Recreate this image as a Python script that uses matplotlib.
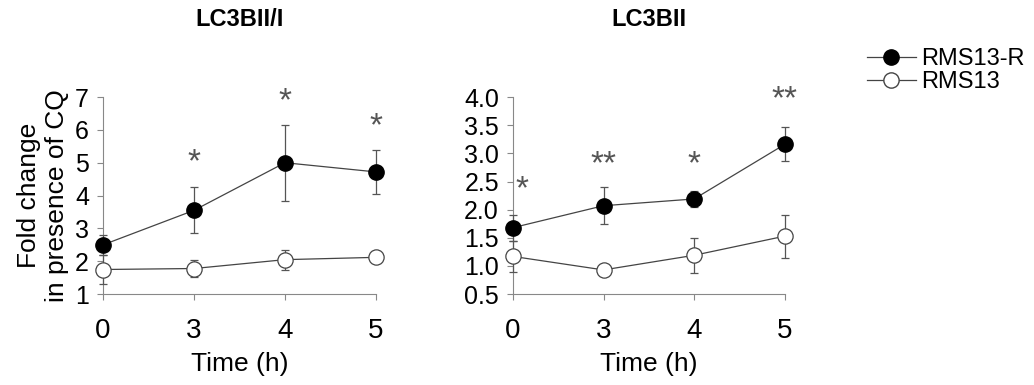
import numpy as np
import matplotlib
matplotlib.use('Agg')
import matplotlib.pyplot as plt
from matplotlib.lines import Line2D

plt.rcParams['font.family'] = ['Liberation Sans', 'DejaVu Sans']

time_labels = ['0', '3', '4', '5']

# LC3BII/I
r_ratio = [2.5, 3.55, 5.0, 4.72]
r_ratio_err = [0.3, 0.7, 1.15, 0.67]
s_ratio = [1.75, 1.78, 2.05, 2.12]
s_ratio_err = [0.45, 0.25, 0.3, 0.08]
stars_ratio = [(1, 5.0, '*'), (2, 6.85, '*'), (3, 6.1, '*')]

# LC3BII
r_ii = [1.68, 2.07, 2.19, 3.16]
r_ii_err = [0.23, 0.33, 0.15, 0.3]
s_ii = [1.17, 0.93, 1.19, 1.53]
s_ii_err = [0.28, 0.0, 0.31, 0.38]
stars_ii = [(0.1, 2.35, '*'), (1, 2.8, '**'), (2, 2.8, '*'), (3, 3.95, '**')]

fig = plt.figure(figsize=(10.34, 3.85), dpi=100)
ax1 = fig.add_axes([0.0996, 0.236, 0.264, 0.512])
ax2 = fig.add_axes([0.496, 0.236, 0.263, 0.512])

grey = '#888888'
x = np.arange(len(time_labels))


def draw(ax, r, re, s, se, stars):
    ax.errorbar(x, r, yerr=re, color='#444444', lw=0.9, marker='o', ms=11,
                mfc='black', mec='black', ecolor='#555555', elinewidth=0.9,
                capsize=3, capthick=0.9, clip_on=False, zorder=3)
    ax.errorbar(x, s, yerr=se, color='#444444', lw=0.9, marker='o', ms=11,
                mfc='white', mec='#444444', mew=0.9, ecolor='#555555',
                elinewidth=0.9, capsize=3, capthick=0.9, clip_on=False, zorder=3)
    for xs, ys, t in stars:
        ax.text(xs, ys, t, ha='center', va='center', fontsize=24, color='#555555')
    for sp in ['top', 'right']:
        ax.spines[sp].set_visible(False)
    for sp in ['left', 'bottom']:
        ax.spines[sp].set_color(grey)
        ax.spines[sp].set_linewidth(0.8)
    ax.set_xticks(x)
    ax.set_xticklabels(time_labels)
    ax.set_xlim(0, 3)
    ax.tick_params(colors=grey, labelcolor='black', length=4, width=0.8)
    ax.tick_params(axis='y', labelsize=18, pad=6)
    ax.tick_params(axis='x', labelsize=20, pad=13)
    ax.set_xlabel('Time (h)', fontsize=19, labelpad=6)


draw(ax1, r_ratio, r_ratio_err, s_ratio, s_ratio_err, stars_ratio)
ax1.set_ylim(1, 7)
ax1.set_yticks(range(1, 8))
ax1.set_ylabel('Fold change\nin presence of CQ', fontsize=19)
ax1.yaxis.set_label_coords(-0.125, 0.5)

draw(ax2, r_ii, r_ii_err, s_ii, s_ii_err, stars_ii)
ax2.set_ylim(0.5, 4.0)
ax2.set_yticks(np.arange(0.5, 4.01, 0.5))
ax2.set_yticklabels(['%.1f' % v for v in np.arange(0.5, 4.01, 0.5)])

fig.text(0.232, 1 - 20 / 385, 'LC3BII/I', fontsize=17, fontweight='bold', ha='center', va='center')
fig.text(0.628, 1 - 20 / 385, 'LC3BII', fontsize=17, fontweight='bold', ha='center', va='center')

handles = [
    Line2D([], [], color='#444444', lw=0.9, marker='o', ms=11, mfc='black', mec='black'),
    Line2D([], [], color='#444444', lw=0.9, marker='o', ms=11, mfc='white', mec='#444444'),
]
fig.legend(handles, ['RMS13-R', 'RMS13'], loc='upper left', bbox_to_anchor=(0.8175, 0.93),
           frameon=False, fontsize=17, handlelength=2.1, handletextpad=0.2,
           labelspacing=0.05)

fig.savefig('out.png', dpi=100)
